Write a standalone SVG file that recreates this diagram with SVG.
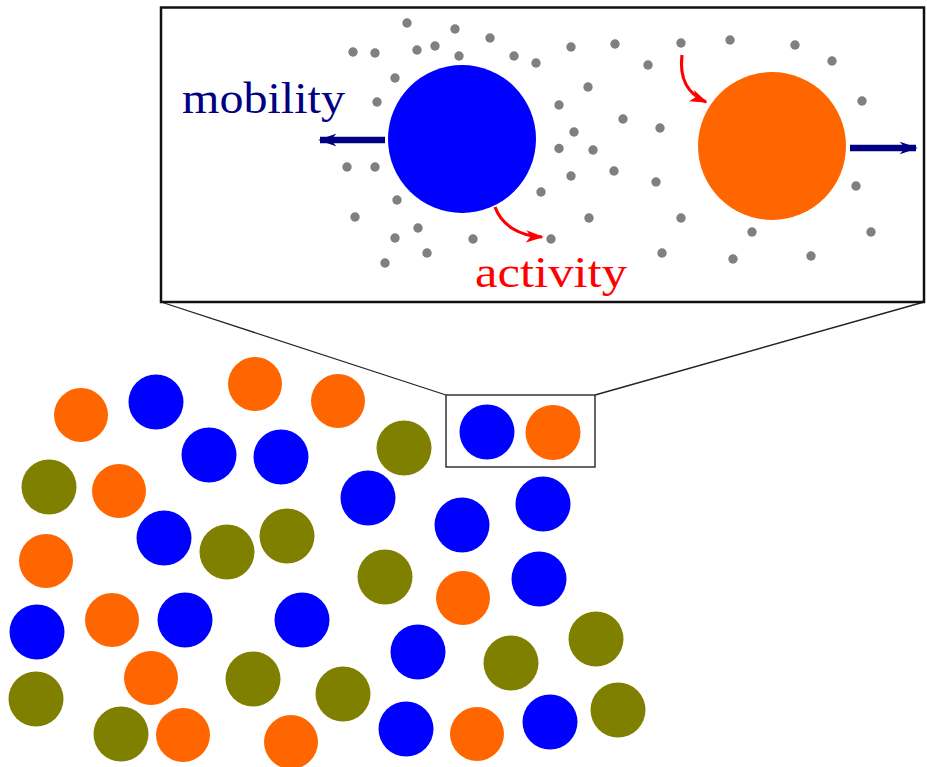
<svg xmlns="http://www.w3.org/2000/svg" width="927" height="767" viewBox="0 0 927 767">
<style>
.b{fill:#0000ff}.o{fill:#ff6600}.g{fill:#808000}.d{fill:#808080}
.lbl{font-family:"Liberation Serif","DejaVu Serif",serif;font-size:45px}
.conn{stroke:#222;stroke-width:1.3;fill:none}
</style>
<defs>
<marker id="nav" viewBox="0 0 10 10" refX="9" refY="5" markerWidth="2.8" markerHeight="2.8" orient="auto" markerUnits="strokeWidth">
<path d="M0,1.5 L10,5 L0,8.5 L3,5 Z" fill="#000080"/>
</marker>
<marker id="red" viewBox="0 0 10 10" refX="9" refY="5" markerWidth="5.5" markerHeight="5.5" orient="auto" markerUnits="strokeWidth">
<path d="M0,1.5 L10,5 L0,8.5 L2.5,5 Z" fill="#ff0000"/>
</marker>
</defs>
<rect width="927" height="767" fill="#fff"/>

<g id="connectors">
<line class="conn" x1="161" y1="302" x2="446" y2="395"/>
<line class="conn" x1="924" y1="302" x2="595" y2="395"/>
<path d="M385,140 L320,140" stroke="#000080" stroke-width="6.5" fill="none" marker-end="url(#nav)"/>
<path d="M850,148 L916,148" stroke="#000080" stroke-width="6.5" fill="none" marker-end="url(#nav)"/>
<path d="M495,207 C502,226 520,236 542,237" stroke="#ff0000" stroke-width="3.2" fill="none" marker-end="url(#red)"/>
<path d="M682,55 C679,80 688,94 706,102" stroke="#ff0000" stroke-width="3.2" fill="none" marker-end="url(#red)"/>
</g>

<g id="inset">
<rect x="161" y="7.5" width="763" height="294.5" fill="none" stroke="#111" stroke-width="2.5"/>
<g id="dots">
<circle class="d" cx="407" cy="23" r="4.7"/><circle class="d" cx="455" cy="29" r="4.7"/>
<circle class="d" cx="490" cy="38" r="4.7"/><circle class="d" cx="353" cy="52" r="4.7"/>
<circle class="d" cx="375" cy="53" r="4.7"/><circle class="d" cx="417" cy="50" r="4.7"/>
<circle class="d" cx="435" cy="46" r="4.7"/><circle class="d" cx="459" cy="56" r="4.7"/>
<circle class="d" cx="514" cy="56" r="4.7"/><circle class="d" cx="536" cy="63" r="4.7"/>
<circle class="d" cx="395" cy="78" r="4.7"/><circle class="d" cx="377" cy="102" r="4.7"/>
<circle class="d" cx="559" cy="105" r="4.7"/><circle class="d" cx="559" cy="148.5" r="4.7"/>
<circle class="d" cx="347" cy="167" r="4.7"/><circle class="d" cx="375" cy="167" r="4.7"/>
<circle class="d" cx="397" cy="200" r="4.7"/><circle class="d" cx="541" cy="192" r="4.7"/>
<circle class="d" cx="355" cy="217" r="4.7"/><circle class="d" cx="418" cy="228" r="4.7"/>
<circle class="d" cx="395" cy="238" r="4.7"/><circle class="d" cx="473" cy="239" r="4.7"/>
<circle class="d" cx="551" cy="239" r="4.7"/><circle class="d" cx="427" cy="253" r="4.7"/>
<circle class="d" cx="385" cy="263" r="4.7"/>
<circle class="d" cx="571" cy="47" r="4.7"/><circle class="d" cx="615" cy="44" r="4.7"/>
<circle class="d" cx="681" cy="43" r="4.7"/><circle class="d" cx="730" cy="40" r="4.7"/>
<circle class="d" cx="795" cy="45" r="4.7"/><circle class="d" cx="832" cy="61" r="4.7"/>
<circle class="d" cx="648" cy="65" r="4.7"/><circle class="d" cx="588" cy="87" r="4.7"/>
<circle class="d" cx="623" cy="119" r="4.7"/><circle class="d" cx="660" cy="128" r="4.7"/>
<circle class="d" cx="574" cy="132" r="4.7"/><circle class="d" cx="593" cy="150" r="4.7"/>
<circle class="d" cx="862" cy="101" r="4.7"/><circle class="d" cx="571" cy="176" r="4.7"/>
<circle class="d" cx="614" cy="171" r="4.7"/><circle class="d" cx="656" cy="182" r="4.7"/>
<circle class="d" cx="856" cy="186" r="4.7"/><circle class="d" cx="589" cy="218" r="4.7"/>
<circle class="d" cx="681" cy="218" r="4.7"/><circle class="d" cx="752" cy="232" r="4.7"/>
<circle class="d" cx="871" cy="232" r="4.7"/><circle class="d" cx="662" cy="253" r="4.7"/>
<circle class="d" cx="733" cy="259" r="4.7"/><circle class="d" cx="811" cy="256" r="4.7"/>
</g>
<g id="big-blue"><circle class="b" cx="462" cy="139" r="74"/></g>
<g id="big-orange"><circle class="o" cx="772" cy="146" r="74"/></g>
<g id="label-mobility"><text class="lbl" x="182" y="113" fill="#000080" textLength="163" lengthAdjust="spacingAndGlyphs">mobility</text></g>
<g id="label-activity"><text class="lbl" x="475" y="287" fill="#ff0000" textLength="152" lengthAdjust="spacingAndGlyphs">activity</text></g>
</g>

<g id="zoom-box">
<rect x="446" y="395" width="149" height="72" fill="none" stroke="#333" stroke-width="1.5"/>
<circle class="b" cx="487" cy="432" r="27.5"/>
<circle class="o" cx="553" cy="432.5" r="27.5"/>
</g>

<g id="population">
<circle class="o" cx="81" cy="415" r="27"/>
<circle class="b" cx="156" cy="402" r="27.5"/>
<circle class="o" cx="255" cy="384" r="27"/>
<circle class="o" cx="338" cy="401" r="27"/>
<circle class="b" cx="209" cy="455" r="27.5"/>
<circle class="b" cx="281" cy="457" r="27.5"/>
<circle class="g" cx="49" cy="487" r="27.5"/>
<circle class="o" cx="119" cy="491" r="27"/>
<circle class="b" cx="164" cy="538" r="27.5"/>
<circle class="g" cx="227" cy="552" r="27.5"/>
<circle class="g" cx="287" cy="536" r="27.5"/>
<circle class="o" cx="46" cy="561" r="27"/>
<circle class="b" cx="37" cy="632" r="27.5"/>
<circle class="o" cx="112" cy="620" r="27"/>
<circle class="b" cx="185" cy="620" r="27.5"/>
<circle class="b" cx="302" cy="620" r="27.5"/>
<circle class="o" cx="151" cy="678" r="27"/>
<circle class="g" cx="253" cy="679" r="27.5"/>
<circle class="g" cx="343" cy="694" r="27.5"/>
<circle class="g" cx="36" cy="699" r="27.5"/>
<circle class="g" cx="121" cy="734" r="27.5"/>
<circle class="o" cx="183" cy="735" r="27"/>
<circle class="o" cx="291" cy="742" r="27"/>
<circle class="g" cx="404" cy="448" r="27.5"/>
<circle class="b" cx="368" cy="498" r="27.5"/>
<circle class="b" cx="462" cy="525" r="27.5"/>
<circle class="b" cx="543" cy="504" r="27.5"/>
<circle class="g" cx="385" cy="577" r="27.5"/>
<circle class="o" cx="463" cy="598" r="27"/>
<circle class="b" cx="539" cy="579" r="27.5"/>
<circle class="b" cx="418" cy="652" r="27.5"/>
<circle class="g" cx="511" cy="663" r="27.5"/>
<circle class="g" cx="596" cy="639" r="27.5"/>
<circle class="b" cx="406" cy="729" r="27.5"/>
<circle class="o" cx="477" cy="734" r="27"/>
<circle class="b" cx="550" cy="722" r="27.5"/>
<circle class="g" cx="618" cy="710" r="27.5"/>
</g>
</svg>
